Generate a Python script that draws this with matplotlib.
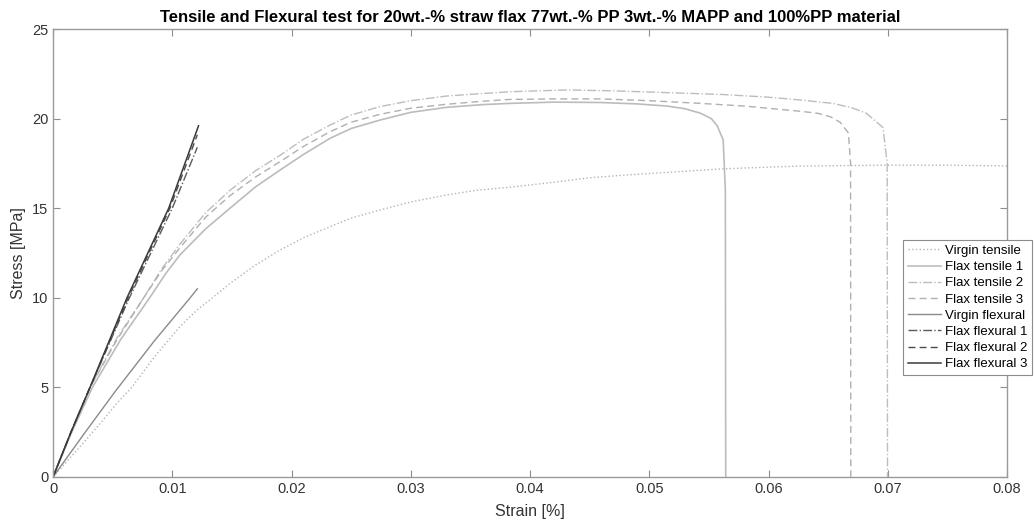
import matplotlib
matplotlib.use("Agg")
import matplotlib.pyplot as plt

plt.rcParams["font.family"] = ["Liberation Sans", "DejaVu Sans"]

# strain / stress values
virgin_tensile_x = [0, 0.00254, 0.0041, 0.00534, 0.0066, 0.0085, 0.01065, 0.01205, 0.0128,
                    0.01484, 0.0168, 0.01904, 0.021, 0.02323, 0.025, 0.02742, 0.030, 0.0330,
                    0.0355, 0.0383, 0.042, 0.045, 0.048, 0.0515, 0.0562, 0.0625, 0.0696,
                    0.075, 0.081]
virgin_tensile_y = [0, 1.9, 3.1, 4.1, 5.0, 6.7, 8.4, 9.3, 9.7,
                    10.8, 11.75, 12.67, 13.35, 13.97, 14.45, 14.9, 15.35, 15.74,
                    16.0, 16.17, 16.45, 16.7, 16.85, 17.0, 17.2, 17.35, 17.4,
                    17.4, 17.35]

flax_t1_x = [0, 0.0015, 0.0033, 0.0057, 0.0081, 0.0095, 0.01065, 0.0128, 0.01484, 0.017,
             0.01904, 0.021, 0.02323, 0.025, 0.02742, 0.030, 0.0330, 0.036, 0.0383, 0.042,
             0.0459, 0.049, 0.0515, 0.053, 0.0543, 0.0552, 0.0557, 0.0562, 0.05638, 0.05641]
flax_t1_y = [0, 2.4, 5.0, 7.7, 10.0, 11.4, 12.4, 13.85, 15.0, 16.2,
             17.13, 18.0, 18.9, 19.45, 19.92, 20.35, 20.63, 20.78, 20.85, 20.92,
             20.9, 20.82, 20.7, 20.55, 20.3, 20.0, 19.6, 18.8, 16.0, 0]

flax_t2_x = [0, 0.0015, 0.0031, 0.0054, 0.0076, 0.0091, 0.01065, 0.0128, 0.01484, 0.017,
             0.01904, 0.021, 0.02323, 0.025, 0.02742, 0.030, 0.0330, 0.036, 0.0383, 0.0431,
             0.047, 0.0515, 0.056, 0.0599, 0.0625, 0.0654, 0.067, 0.0682, 0.0696,
             0.06995, 0.06998]
flax_t2_y = [0, 2.5, 5.0, 7.8, 10.0, 11.6, 13.0, 14.75, 16.0, 17.1,
             17.95, 18.85, 19.64, 20.2, 20.67, 21.0, 21.26, 21.4, 21.5, 21.6,
             21.55, 21.45, 21.35, 21.2, 21.05, 20.85, 20.6, 20.3, 19.5,
             17.5, 0]

flax_t3_x = [0, 0.0015, 0.0031, 0.0054, 0.0076, 0.0091, 0.01065, 0.0128, 0.01484, 0.017,
             0.01904, 0.021, 0.02323, 0.025, 0.02742, 0.030, 0.0330, 0.036, 0.0383, 0.042,
             0.0459, 0.050, 0.0543, 0.058, 0.0612, 0.0628, 0.0641, 0.0652, 0.066, 0.0667,
             0.06688, 0.0669]
flax_t3_y = [0, 2.5, 5.0, 7.7, 10.0, 11.5, 12.8, 14.5, 15.7, 16.75,
             17.6, 18.45, 19.27, 19.8, 20.24, 20.58, 20.8, 20.97, 21.07, 21.1,
             21.1, 21.0, 20.85, 20.7, 20.5, 20.4, 20.3, 20.1, 19.8, 19.2,
             17.5, 0]

virgin_f_x = [0, 0.0027, 0.0053, 0.0085, 0.0115, 0.0121]
virgin_f_y = [0, 2.5, 4.85, 7.6, 10.0, 10.5]

flax_f1_x = [0, 0.0015, 0.0031, 0.0064, 0.0100, 0.0121]
flax_f1_y = [0, 2.5, 5.0, 10.0, 15.0, 18.4]

flax_f2_x = [0, 0.0015, 0.0031, 0.0063, 0.0098, 0.0121]
flax_f2_y = [0, 2.5, 5.0, 10.0, 15.0, 19.1]

flax_f3_x = [0, 0.0015, 0.0031, 0.0062, 0.0097, 0.0122]
flax_f3_y = [0, 2.5, 5.0, 10.0, 15.0, 19.6]

x_ticks = [0, 0.01, 0.02, 0.03, 0.04, 0.05, 0.06, 0.07, 0.08]
x_tick_labels = ["0", "0.01", "0.02", "0.03", "0.04", "0.05", "0.06", "0.07", "0.08"]
y_ticks = [0, 5, 10, 15, 20, 25]

fig = plt.figure(figsize=(10.34, 5.23), dpi=100)
ax = fig.add_axes([0.0513, 0.088, 0.9226, 0.8565])

ax.plot(virgin_tensile_x, virgin_tensile_y, ":", color="#b4b4b4", lw=1.0, label="Virgin tensile")
ax.plot(flax_t1_x, flax_t1_y, "-", color="#bcbcbc", lw=1.2, label="Flax tensile 1")
ax.plot(flax_t2_x, flax_t2_y, "-.", color="#bdbdbd", lw=1.0, label="Flax tensile 2")
ax.plot(flax_t3_x, flax_t3_y, "--", color="#b0b0b0", lw=1.0, label="Flax tensile 3",
        dashes=(5, 3))
ax.plot(virgin_f_x, virgin_f_y, "-", color="#8a8a8a", lw=1.0, label="Virgin flexural")
ax.plot(flax_f1_x, flax_f1_y, "-.", color="#5a5a5a", lw=1.0, label="Flax flexural 1")
ax.plot(flax_f2_x, flax_f2_y, "--", color="#4a4a4a", lw=1.0, label="Flax flexural 2",
        dashes=(5, 3))
ax.plot(flax_f3_x, flax_f3_y, "-", color="#3a3a3a", lw=1.1, label="Flax flexural 3")

ax.set_xlim(0, 0.08)
ax.set_ylim(0, 25)
ax.set_xticks(x_ticks)
ax.set_xticklabels(x_tick_labels)
ax.set_yticks(y_ticks)
ax.tick_params(direction="in", top=True, right=True, length=5, width=0.8,
               color="#8c8c8c", labelcolor="#333333", labelsize=10.5)
for s in ax.spines.values():
    s.set_color("#9a9a9a")
    s.set_linewidth(1.0)

ax.set_xlabel("Strain [%]", fontsize=11.5, color="#333333", labelpad=6)
ax.set_ylabel("Stress [MPa]", fontsize=11.5, color="#333333", labelpad=4)
ax.set_title("Tensile and Flexural test for 20wt.-% straw flax 77wt.-% PP 3wt.-% MAPP and 100%PP material",
             fontsize=12, fontweight="bold", pad=5)

# legend sticks out past the right edge of the axes, like in the original
leg = ax.legend(loc="lower left", bbox_to_anchor=(0.8733, 0.283), bbox_transform=fig.transFigure,
                fontsize=9.5, fancybox=False, framealpha=1, edgecolor="#8c8c8c",
                handlelength=2.5, labelspacing=0.3, borderpad=0.35, handletextpad=0.3,
                borderaxespad=0)
leg.get_frame().set_linewidth(0.8)

fig.savefig("out.png", dpi=100)
